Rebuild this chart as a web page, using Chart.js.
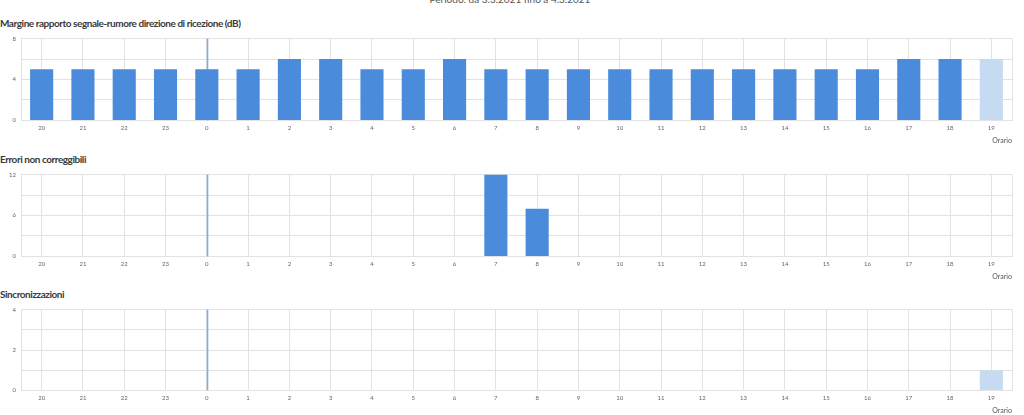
<!DOCTYPE html>
<html><head><meta charset="utf-8">
<script src="https://cdn.jsdelivr.net/npm/chart.js@4.4.1/dist/chart.umd.min.js"></script>
<style>
html,body{margin:0;padding:0;background:#fff;width:1024px;height:415px;overflow:hidden;font-family:Lato,"Open Sans",sans-serif;position:relative;}
.period{position:absolute;left:0;width:1020px;text-align:center;top:-7px;font-size:10px;color:#555;white-space:nowrap;}
.title{position:absolute;left:0;font-size:10px;font-weight:700;color:#3a3a3a;white-space:nowrap;letter-spacing:-0.45px;}
canvas{position:absolute;left:0;}
</style></head><body>
<div class="period">Periodo: da 3.3.2021 fino a 4.3.2021</div>
<div class="title" style="top:17px">Margine rapporto segnale-rumore direzione di ricezione (dB)</div>
<canvas id="c1" width="1024" height="115" style="top:30px"></canvas>
<div class="title" style="top:153px">Errori non correggibili</div>
<canvas id="c2" width="1024" height="115" style="top:166px"></canvas>
<div class="title" style="top:288px">Sincronizzazioni</div>
<canvas id="c3" width="1024" height="114" style="top:301px"></canvas>
<script>
const hours = ['20','21','22','23','0','1','2','3','4','5','6','7','8','9','10','11','12','13','14','15','16','17','18','19'];
const snrMargin = [5,5,5,5,5,5,6,6,5,5,6,5,5,5,5,5,5,5,5,5,5,6,6,6];
const uncorrectableErrors = [0,0,0,0,0,0,0,0,0,0,0,12,7,0,0,0,0,0,0,0,0,0,0,0];
const synchronizations = [0,0,0,0,0,0,0,0,0,0,0,0,0,0,0,0,0,0,0,0,0,0,0,1];
const dayBoundaryHour = '0';
const currentHour = '19';
const snrAxis = [0, 8, 2];      // min, max, grid step
const errAxis = [0, 12, 3];
const syncAxis = [0, 4, 1];
const xAxisTitle = 'Orario';

const FULL = '#4a8cdb', PARTIAL = '#c6dbf2', GRID = '#e2e2e2';
const FONT = 'Lato, "Open Sans", sans-serif';

const decor = {
  id: 'decor',
  beforeDatasetsDraw(chart) {
    const {ctx, chartArea: a, scales: {x}} = chart;
    const px = Math.round(x.getPixelForValue(hours.indexOf(dayBoundaryHour))) + 0.5;
    ctx.save();
    ctx.strokeStyle = '#86addf';
    ctx.lineWidth = 1.6;
    ctx.beginPath(); ctx.moveTo(px, a.top); ctx.lineTo(px, a.bottom); ctx.stroke();
    ctx.restore();
  },
  afterDraw(chart) {
    const {ctx, chartArea: a} = chart;
    ctx.save();
    ctx.strokeStyle = GRID; ctx.lineWidth = 1;
    ctx.beginPath();
    ctx.moveTo(Math.round(a.right) + 0.5, a.top); ctx.lineTo(Math.round(a.right) + 0.5, a.bottom);
    ctx.stroke();
    ctx.restore();
  }
};

function makeChart(id, values, axis) {
  const [min, max, step] = axis;
  new Chart(document.getElementById(id), {
    type: 'bar',
    data: {
      labels: hours,
      datasets: [{
        data: values,
        backgroundColor: hours.map(h => h === currentHour ? PARTIAL : FULL),
        borderWidth: 0,
        barPercentage: 0.56,
        categoryPercentage: 1.0
      }]
    },
    options: {
      responsive: false,
      animation: false,
      devicePixelRatio: 1,
      layout: {padding: {top: 5, right: 12, left: 0, bottom: 0}},
      plugins: {legend: {display: false}, tooltip: {enabled: false}},
      scales: {
        x: {
          grid: {offset: false, color: GRID, drawTicks: false},
          border: {color: GRID},
          ticks: {font: {size: 6, family: FONT}, color: '#666', padding: 4, maxRotation: 0, autoSkip: false},
          title: {display: true, text: xAxisTitle, align: 'end', color: '#555', font: {size: 7, family: FONT}, padding: {top: 1, bottom: 0}}
        },
        y: {
          min: min, max: max,
          grid: {color: GRID, drawTicks: false},
          border: {color: GRID},
          ticks: {stepSize: step, font: {size: 6, family: FONT}, color: '#666', padding: 5,
                  callback: v => (v % (step * 2) === 0 ? v : '')},
          afterFit: s => { s.width = 21; }
        }
      }
    },
    plugins: [decor]
  });
}

makeChart('c1', snrMargin, snrAxis);
makeChart('c2', uncorrectableErrors, errAxis);
makeChart('c3', synchronizations, syncAxis);
</script>
</body></html>
